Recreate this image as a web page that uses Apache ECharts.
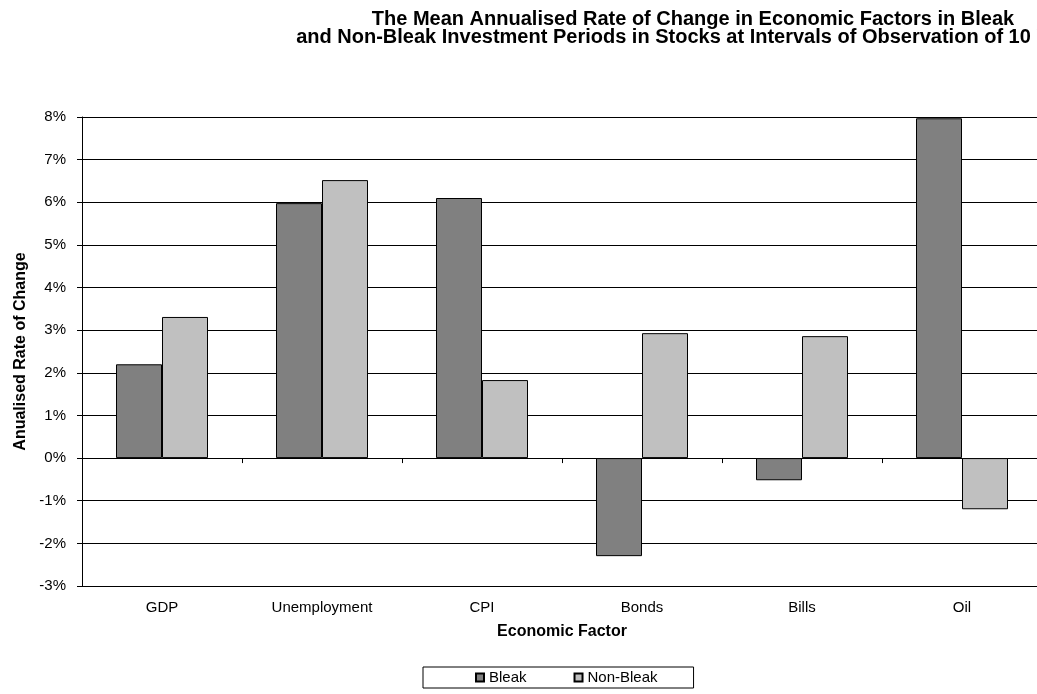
<!DOCTYPE html>
<html>
<head>
<meta charset="utf-8">
<script src="https://cdn.jsdelivr.net/npm/echarts@6/dist/echarts.min.js"></script>
<style>
html,body{margin:0;padding:0;background:#fff;overflow:hidden;}
#chart{width:1100px;height:694px;}
</style>
</head>
<body>
<div id="chart"></div>
<script>
const categories = ['GDP', 'Unemployment', 'CPI', 'Bonds', 'Bills', 'Oil'];
const bleak = [2.20, 5.98, 6.10, -2.30, -0.52, 7.97];
const nonBleak = [3.31, 6.52, 1.83, 2.93, 2.86, -1.20];
const titleLines = [
  'The Mean Annualised Rate of Change in Economic Factors in Bleak',
  'and Non-Bleak Investment Periods in Stocks at Intervals of Observation of 10 Years'
];
const seriesNames = ['Bleak', 'Non-Bleak'];
const yTicks = { min: -3, max: 8, interval: 1 };

const FONT = '"Liberation Sans", Arial, sans-serif';
const chart = echarts.init(document.getElementById('chart'), null, { renderer: 'canvas' });
chart.setOption({
  animation: false,
  backgroundColor: '#fff',
  textStyle: { fontFamily: FONT },
  graphic: [{
    type: 'text',
    x: 693, y: 10,
    style: {
      text: titleLines.join('\n'),
      font: 'bold 20px ' + FONT,
      fill: '#000',
      align: 'center',
      lineHeight: 18
    }
  }],
  grid: { left: 82, top: 117, width: 960, height: 469, containLabel: false },
  legend: {
    data: seriesNames,
    left: 423, top: 667,
    itemWidth: 8, itemHeight: 8, itemGap: 47,
    icon: 'rect',
    padding: [3, 36, 3, 52],
    borderColor: '#000', borderWidth: 1,
    textStyle: { fontSize: 15, color: '#000', fontFamily: FONT }
  },
  xAxis: [{
    type: 'category',
    data: categories,
    position: 'bottom',
    axisLine: { show: false, onZero: false },
    axisTick: { show: false },
    axisLabel: { fontSize: 15, color: '#000', margin: 14, fontFamily: FONT },
    name: 'Economic Factor',
    nameLocation: 'middle',
    nameGap: 38,
    nameTextStyle: { fontWeight: 'bold', fontSize: 16, color: '#000', fontFamily: FONT }
  }, {
    type: 'category',
    data: categories,
    position: 'bottom',
    axisLine: { show: true, onZero: true, lineStyle: { color: '#000', width: 1 } },
    axisTick: { show: true, length: 5, lineStyle: { color: '#000' } },
    axisLabel: { show: false }
  }],
  yAxis: {
    type: 'value',
    min: yTicks.min, max: yTicks.max, interval: yTicks.interval,
    axisLine: { show: true, lineStyle: { color: '#000' } },
    axisTick: { show: true, length: 5, lineStyle: { color: '#000' } },
    splitLine: { show: true, lineStyle: { color: '#000', width: 1 } },
    axisLabel: { fontSize: 15, color: '#000', margin: 16, formatter: v => v + '%', fontFamily: FONT },
    name: 'Anualised Rate of Change',
    nameLocation: 'middle',
    nameGap: 53,
    nameTextStyle: { fontWeight: 'bold', fontSize: 16, color: '#000', fontFamily: FONT }
  },
  series: [{
    name: seriesNames[0],
    type: 'bar',
    data: bleak,
    xAxisIndex: 0,
    barWidth: '28.75%',
    barGap: '0%',
    itemStyle: { color: '#808080', borderColor: '#000', borderWidth: 1 }
  }, {
    name: seriesNames[1],
    type: 'bar',
    data: nonBleak,
    xAxisIndex: 0,
    barWidth: '28.75%',
    barGap: '0%',
    itemStyle: { color: '#c0c0c0', borderColor: '#000', borderWidth: 1 }
  }]
});
</script>
</body>
</html>
